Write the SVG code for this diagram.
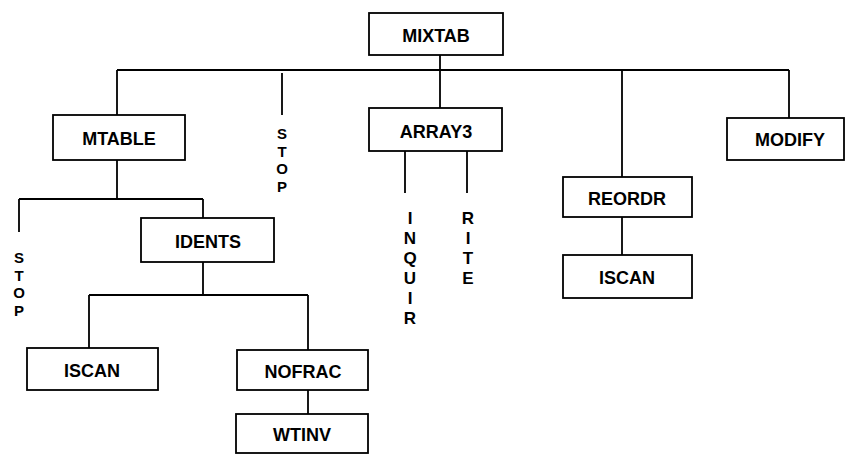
<svg xmlns="http://www.w3.org/2000/svg" width="847" height="454" viewBox="0 0 847 454">
<style>
.box{fill:#fff;stroke:#000;stroke-width:1.8}
.lbl{font-family:"Liberation Sans",Arial,sans-serif;font-weight:bold;font-size:18px;text-anchor:middle;fill:#000}
.v{font-family:"Liberation Sans",Arial,sans-serif;font-weight:bold;font-size:17px;text-anchor:middle;fill:#000}
.s{font-family:"Liberation Sans",Arial,sans-serif;font-weight:bold;font-size:15px;text-anchor:middle;fill:#000}
.c{fill:none;stroke:#000;stroke-width:1.8}
</style>
<rect width="847" height="454" fill="#fff"/>
<g id="connectors" class="c">
<path d="M440 55V70M117 70H789M117 70V115M282 73V115M440 70V108M622 70V177M789 70V118"/>
<path d="M117 160V199M19 199H203M19 199V232M203 199V218"/>
<path d="M203 262V295M89 295H308M89 295V348M308 295V350M308 390V414"/>
<path d="M405 151V193M467 151V193"/>
<path d="M622 217V255"/>
</g>
<g id="MIXTAB"><rect class="box" x="369" y="13" width="134" height="42"/><text class="lbl" x="436" y="42">MIXTAB</text></g>
<g id="MTABLE"><rect class="box" x="53" y="115" width="132" height="45"/><text class="lbl" x="119" y="145">MTABLE</text></g>
<g id="STOP1"><text class="s" x="282" y="139">S</text><text class="s" x="282" y="156.5">T</text><text class="s" x="282" y="174">O</text><text class="s" x="282" y="191.5">P</text></g>
<g id="ARRAY3"><rect class="box" x="369" y="108" width="133" height="43"/><text class="lbl" x="436" y="138">ARRAY3</text></g>
<g id="INQUIR"><text class="v" x="410" y="224">I</text><text class="v" x="410" y="244">N</text><text class="v" x="410" y="264">Q</text><text class="v" x="410" y="284">U</text><text class="v" x="410" y="304">I</text><text class="v" x="410" y="324">R</text></g>
<g id="RITE"><text class="v" x="468" y="224">R</text><text class="v" x="468" y="244">I</text><text class="v" x="468" y="264">T</text><text class="v" x="468" y="284">E</text></g>
<g id="MODIFY"><rect class="box" x="727" y="118" width="117" height="42"/><text class="lbl" x="790" y="146">MODIFY</text></g>
<g id="REORDR"><rect class="box" x="563" y="177" width="129" height="40"/><text class="lbl" x="627" y="205">REORDR</text></g>
<g id="ISCAN2"><rect class="box" x="563" y="255" width="129" height="43"/><text class="lbl" x="627" y="284">ISCAN</text></g>
<g id="STOP2"><text class="s" x="19" y="263">S</text><text class="s" x="19" y="280.5">T</text><text class="s" x="19" y="298">O</text><text class="s" x="19" y="315.5">P</text></g>
<g id="IDENTS"><rect class="box" x="141" y="218" width="133" height="44"/><text class="lbl" x="208" y="248">IDENTS</text></g>
<g id="ISCAN1"><rect class="box" x="27" y="348" width="131" height="42"/><text class="lbl" x="92" y="377">ISCAN</text></g>
<g id="NOFRAC"><rect class="box" x="237" y="350" width="131" height="40"/><text class="lbl" x="303" y="378">NOFRAC</text></g>
<g id="WTINV"><rect class="box" x="236" y="414" width="132" height="39"/><text class="lbl" x="302" y="441">WTINV</text></g>
</svg>
